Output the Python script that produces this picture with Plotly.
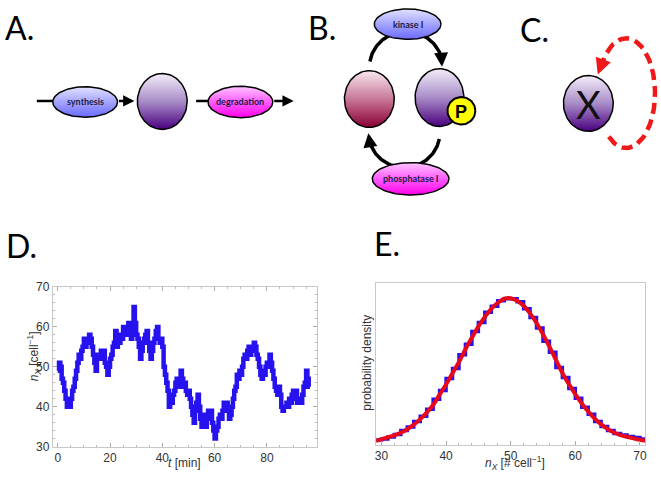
import numpy as np
import plotly.graph_objects as go

W, H = 661, 477
PAGE_H = 481  # small allowance for the slight vertical squeeze seen in the photos

# panel D: molecule count trajectory, sampled every 0.5 min
t_start, t_step = 0.0, 0.5
n_x = [49, 51, 50, 47, 46, 44, 42, 40, 41, 40,
       42, 44, 45, 47, 49, 51, 53, 52, 54, 55,
       57, 55, 57, 56, 58, 57, 55, 53, 51, 49,
       52, 53, 52, 54, 52, 54, 51, 50, 48, 50,
       52, 53, 55, 56, 59, 55, 57, 56, 58, 57,
       60, 59, 60, 58, 61, 60, 57, 59, 65, 61,
       58, 57, 55, 52, 54, 56, 57, 58, 59, 56,
       54, 52, 54, 56, 57, 59, 60, 57, 56, 57,
       55, 50, 48, 46, 44, 40, 42, 41, 43, 44,
       46, 47, 45, 47, 49, 47, 45, 46, 44, 43,
       44, 42, 40, 38, 36, 39, 41, 43, 40, 37,
       35, 38, 37, 35, 37, 39, 38, 39, 36, 34,
       32, 34, 35, 37, 38, 37, 39, 41, 40, 41,
       39, 37, 38, 40, 42, 44, 45, 48, 47, 49,
       48, 50, 52, 53, 52, 54, 55, 53, 55, 54,
       56, 55, 53, 52, 50, 48, 47, 49, 48, 50,
       51, 50, 53, 51, 49, 47, 45, 44, 43, 45,
       43, 40, 39, 40, 40, 41, 40, 42, 41, 43,
       44, 42, 44, 41, 42, 41, 41, 43, 45, 46,
       49, 47, 45, 45]

# panel E: histogram (unit bins starting at 29) and fitted density
bin_start = 29
hist_density = [0.0018, 0.0022, 0.0030, 0.0040, 0.0056, 0.0070, 0.0092, 0.0112,
                0.0140, 0.0180, 0.0214, 0.0262, 0.0302, 0.0356, 0.0398, 0.0448,
                0.0484, 0.0524, 0.0548, 0.0570, 0.0578, 0.0578, 0.0566, 0.0538,
                0.0504, 0.0462, 0.0410, 0.0366, 0.0306, 0.0266, 0.0222, 0.0184,
                0.0148, 0.0120, 0.0092, 0.0072, 0.0056, 0.0044, 0.0038, 0.0032,
                0.0028, 0.0022]
curve_start = 29
curve_density = [0.0015, 0.0021, 0.0029, 0.0037, 0.0047, 0.0061, 0.0079, 0.0101,
                 0.0127, 0.0157, 0.0198, 0.0238, 0.0283, 0.0328, 0.0378, 0.0424,
                 0.0468, 0.0506, 0.0538, 0.0562, 0.0578, 0.0580, 0.0570, 0.0550,
                 0.0520, 0.0482, 0.0437, 0.0388, 0.0336, 0.0284, 0.0240, 0.0200,
                 0.0163, 0.0131, 0.0103, 0.0080, 0.0062, 0.0048, 0.0038, 0.0031,
                 0.0025, 0.0019, 0.0015]

ticks_D_x = [0, 20, 40, 60, 80]
ticks_D_y = [30, 40, 50, 60, 70]
ticks_E_x = [30, 40, 50, 60, 70]

BLUE = '#2612ee'
RED = '#e8081a'
# gradients listed top -> bottom
BLUE_FILL = ['#e2e2ff', '#a4a4ff', '#6a6aff']
MAGENTA_FILL = ['#ffc4ff', '#ff5cff', '#ff00e6']
PURPLE_FILL = ['#f4eef8', '#a88cc8', '#4a0080']
CRIMSON_FILL = ['#f8e8f0', '#c87898', '#8a0034']

fig = go.Figure()

# ---- plots
fig.add_trace(go.Scatter(x0=t_start, dx=t_step, y=n_x, mode='lines',
                         line=dict(color=BLUE, width=4.5, shape='hv'),
                         xaxis='x', yaxis='y'))
fig.add_trace(go.Scatter(x0=bin_start, dx=1, y=hist_density + hist_density[-1:], mode='lines',
                         line=dict(color=BLUE, width=3.5, shape='hv'),
                         xaxis='x2', yaxis='y2'))
fig.add_trace(go.Scatter(x0=curve_start, dx=1, y=curve_density, mode='lines',
                         line=dict(color=RED, width=4, shape='spline'),
                         xaxis='x2', yaxis='y2'))

# ---- diagrams (drawn on a pixel-sized overlay axis, y pointing down)
def dline(xs, ys, color='black', width=3.5, dash=None):
    fig.add_trace(go.Scatter(x=xs, y=ys, mode='lines',
                             line=dict(color=color, width=width, dash=dash),
                             xaxis='x3', yaxis='y3', hoverinfo='skip'))

def arc(cx, cy, rx, ry, a0, a1, **kw):
    a = np.radians(np.linspace(a0, a1, 80))
    dline(cx + rx * np.cos(a), cy + ry * np.sin(a), **kw)

def blob(cx, cy, rx, ry, colors, lw=1.5):
    a = np.linspace(0, 2 * np.pi, 90)
    # reversed y axis: colorscale 0 sits at the bottom of the shape
    scale = [[0, colors[2]], [0.5, colors[1]], [1, colors[0]]]
    fig.add_trace(go.Scatter(x=cx + rx * np.cos(a), y=cy + ry * np.sin(a), mode='lines',
                             fill='toself',
                             fillgradient=dict(type='vertical', colorscale=scale),
                             line=dict(color='black', width=lw),
                             xaxis='x3', yaxis='y3', hoverinfo='skip'))

def arrow(x, y, ax, ay, color='black', width=2.5, size=0.9):
    fig.add_annotation(x=x, y=y, ax=ax, ay=ay, xref='x3', yref='y3', axref='x3', ayref='y3',
                       text='', showarrow=True, arrowhead=2, arrowsize=size,
                       arrowwidth=width, arrowcolor=color, standoff=0)

def label(x, y, s, size=9, color='#1c1c3c', family='Lato'):
    fig.add_annotation(x=x, y=y, xref='x3', yref='y3', text=s, showarrow=False,
                       xanchor='center', yanchor='middle',
                       font=dict(family=family, size=size, color=color))

# A
dline([36, 53], [96, 96], width=2.5)
dline([196, 209], [96, 96], width=2.5)
blob(84.5, 97, 32.5, 15.5, BLUE_FILL)
blob(162, 96.5, 25, 28.5, PURPLE_FILL)
blob(240.5, 97, 32.5, 16, MAGENTA_FILL)
arrow(134, 96, 117, 96)
arrow(294, 96, 273, 96)
label(84.5, 97, '<b>synthesis</b>')
label(240.5, 97, '<b>degradation</b>')

# B
arc(407, 62, 37, 37, 190, 345)
arc(405, 128, 36, 36, 11, 165)
arrow(443, 61, 442.3, 50, width=3.5, size=0.8)
arrow(369, 129, 370.5, 139, width=3.5, size=0.8)
blob(408.5, 17.5, 33.5, 15.5, BLUE_FILL)
blob(411.5, 175.5, 38.5, 16.5, MAGENTA_FILL)
blob(370, 94, 25, 29, CRIMSON_FILL)
blob(440.5, 92.5, 24.5, 29.5, PURPLE_FILL)
a = np.linspace(0, 2 * np.pi, 60)
fig.add_trace(go.Scatter(x=462.5 + 14 * np.cos(a), y=106 + 14 * np.sin(a), mode='lines',
                         fill='toself', fillcolor='#ffff00', line=dict(color='black', width=2),
                         xaxis='x3', yaxis='y3', hoverinfo='skip'))
label(408.5, 17.5, '<b>kinase I</b>')
label(411.5, 175.5, '<b>phosphatase I</b>')
label(462.5, 107, '<b>P</b>', size=18, color='black', family='Liberation Sans')

# C
arc(628, 88, 29, 56, 207, 494, color='#f01818', width=4.5, dash='11px,6px')
arrow(599.5, 69, 603.5, 58, color='#f01818', width=4, size=0.8)
blob(590, 98.5, 25, 28.5, PURPLE_FILL)
label(590, 99, 'X', size=38, color='#111111')

# panel letters (centre of the capitals, in px)
for s, x, y in [('A.', 2, 21), ('B.', 306, 21), ('C.', 519, 23), ('D.', 3, 244), ('E.', 373, 242)]:
    fig.add_annotation(x=x / W, y=1 - y / H, xref='paper', yref='paper', xanchor='left',
                       yanchor='middle', text=s, showarrow=False,
                       font=dict(family='Lato', size=32, color='black'))

tickfont = dict(family='Liberation Sans', size=12, color='#333333')
titlefont = dict(family='Liberation Sans', size=12, color='#333333')

# axis titles placed in px
for s, x, y, rot in [('<i>t</i> [min]', 184, 466, 0),
                     ('<i>n</i><sub><i>X</i></sub> [cell<sup>\u22121</sup>]', 33, 357, -90),
                     ('<i>n</i><sub><i>X</i></sub> [# cell<sup>\u22121</sup>]', 516, 466, 0),
                     ('probability density', 368, 363, -90)]:
    fig.add_annotation(x=x / W, y=1 - y / H, xref='paper', yref='paper', text=s,
                       xanchor='center', yanchor='middle',
                       textangle=rot, showarrow=False, font=titlefont)

frame = dict(showline=True, linecolor='#c8c8c8', linewidth=1, showgrid=False,
             zeroline=False, tickfont=tickfont, fixedrange=True)

fig.update_layout(
    width=W, height=PAGE_H, margin=dict(l=0, r=0, t=0, b=0),
    paper_bgcolor='white', plot_bgcolor='rgba(0,0,0,0)', showlegend=False,
    xaxis=dict(frame, domain=[52 / W, 317 / W], range=[-1.9, 99], anchor='y',
               mirror='allticks', ticks='inside', ticklen=4, tickcolor='#aaaaaa',
               tickvals=ticks_D_x,
               minor=dict(ticks='inside', ticklen=2, dtick=5, tickcolor='#bbbbbb')),
    yaxis=dict(frame, domain=[1 - 449 / H, 1 - 286 / H], range=[30, 70], anchor='x',
               mirror='allticks', ticks='inside', ticklen=4, tickcolor='#aaaaaa',
               tickvals=ticks_D_y,
               minor=dict(ticks='inside', ticklen=2, dtick=2, tickcolor='#bbbbbb')),
    xaxis2=dict(frame, domain=[377 / W, 647 / W], range=[29.2, 70.8], anchor='y2',
                mirror=True, ticks='inside', ticklen=4, tickcolor='#aaaaaa',
                tickvals=ticks_E_x,
                minor=dict(ticks='inside', ticklen=2, dtick=2, tickcolor='#bbbbbb')),
    yaxis2=dict(frame, domain=[1 - 447 / H, 1 - 282 / H], range=[0, 0.064], anchor='x2',
                mirror=True, ticks='', showticklabels=False),
    xaxis3=dict(domain=[0, 1], range=[0, W], anchor='y3', visible=False, fixedrange=True),
    yaxis3=dict(domain=[0, 1], range=[H, 0], anchor='x3', visible=False, fixedrange=True),
)

# pin the figure to the window's top-left corner so the page is exactly the figure
pin = ("document.body.style.margin = '0';"
       "var d = document.querySelector('.plotly-graph-div');"
       "d.style.position = 'fixed'; d.style.left = '0px'; d.style.top = '0px';")
fig.write_html("out.html", config={'displayModeBar': False}, post_script=pin)
